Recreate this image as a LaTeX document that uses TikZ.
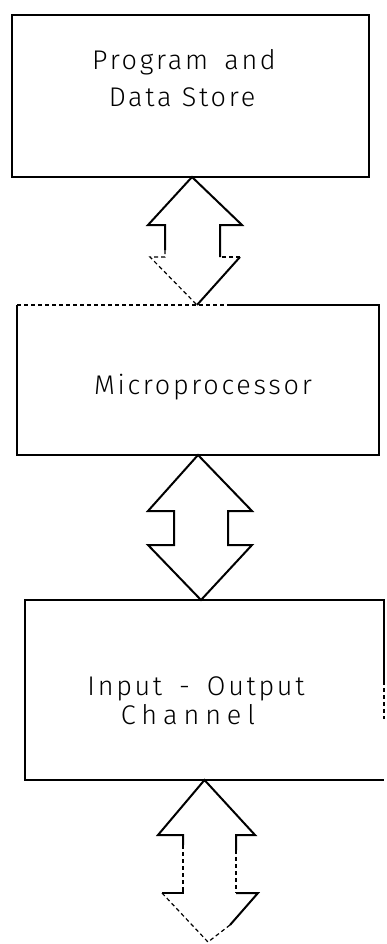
\documentclass[tikz,border=0pt]{standalone}
\usepackage{fontspec}
\setmainfont{Fira Sans}[UprightFont={* Light}, LetterSpace=10]
\usetikzlibrary{calc}
\begin{document}
\begin{tikzpicture}[x=1pt,y=-1pt, line width=2pt, line join=miter]
\tikzset{
  boxshape/.style={rectangle, inner sep=0pt, outer sep=0pt},
  lbl/.style={font=\fontsize{27}{30}\selectfont, anchor=base, inner sep=0pt},
  faint/.style={line width=1.2pt, dash pattern=on 4pt off 3pt},
  solidln/.style={line width=2pt},
}
\useasboundingbox (0,0) rectangle (386,944);
% boxes
\node[boxshape, draw, minimum width=357pt, minimum height=162pt] (b1) at (190.5,96) {};
\node[boxshape, minimum width=362pt, minimum height=150pt] (b2) at (198,380) {};
\node[boxshape, minimum width=359pt, minimum height=180pt] (b3) at (204.5,690) {};
% box 2 edges
\draw[solidln] ($(b2.north west)!0.59!(b2.north east)$) -- (b2.north east) -- (b2.south east) -- (b2.south west) -- (b2.north west);
\draw[faint] (b2.north west) -- ($(b2.north west)!0.59!(b2.north east)$);
% box 3 edges
\draw[solidln] ($(b3.north east)!0.45!(b3.south east)$) -- (b3.north east) -- (b3.north west) -- (b3.south west) -- (b3.south east);
\draw[faint] ($(b3.north east)!0.45!(b3.south east)$) -- ($(b3.north east)!0.66!(b3.south east)$);
% labels
\node[lbl] (t1) at (184,70) {Program\hspace{0.6em}and};
\node[lbl] (t2) at (182,107) {Data Store};
\node[lbl] (t3) at (203,394) {Microprocessor};
\node[lbl] (t4) at (196,695) {Input\hspace{0.25em} - \hspace{0.25em}Output};
\node[lbl] (t5) at (188,724) {\addfontfeature{LetterSpace=22}Channel};
% arrow 1
\coordinate (a1t) at ($(b1.south)+(1.5,0)$);
\coordinate (a1b) at ($(b2.north)+(-1,0)$);
\draw[solidln] (165,250) -- (165,225) -- (148,225) -- (a1t) -- (242,225) -- (220,225) -- (220,257);
\draw[solidln] (a1b) -- (240,257);
\draw[faint] (165,250) -- (165,257) -- (150,257) -- (a1b);
\draw[faint] (240,257) -- (220,257);
% arrow 2
\coordinate (a2b) at ($(b3.north)+(-3.5,0)$);
\draw[solidln] (b2.south) -- (148,511) -- (174,511) -- (174,545) -- (148,545) -- (a2b) -- (252,545) -- (228,545) -- (228,511) -- (252,511) -- cycle;
% arrow 3
\coordinate (a3b) at (208,942);
\draw[solidln] (183,845) -- (183,835) -- (158,835) -- (b3.south) -- (255,835) -- (236,835) -- (236,850);
\draw[faint] (183,845) -- (183,888);
\draw[solidln] (183,888) -- (183,893) -- (162,893);
\draw[faint] (162,893) -- (a3b);
\draw[faint] (236,850) -- (236,893);
\draw[solidln] (236,893) -- (258,893) -- (230,925);
\draw[faint] (230,925) -- (a3b);
\end{tikzpicture}
\end{document}
